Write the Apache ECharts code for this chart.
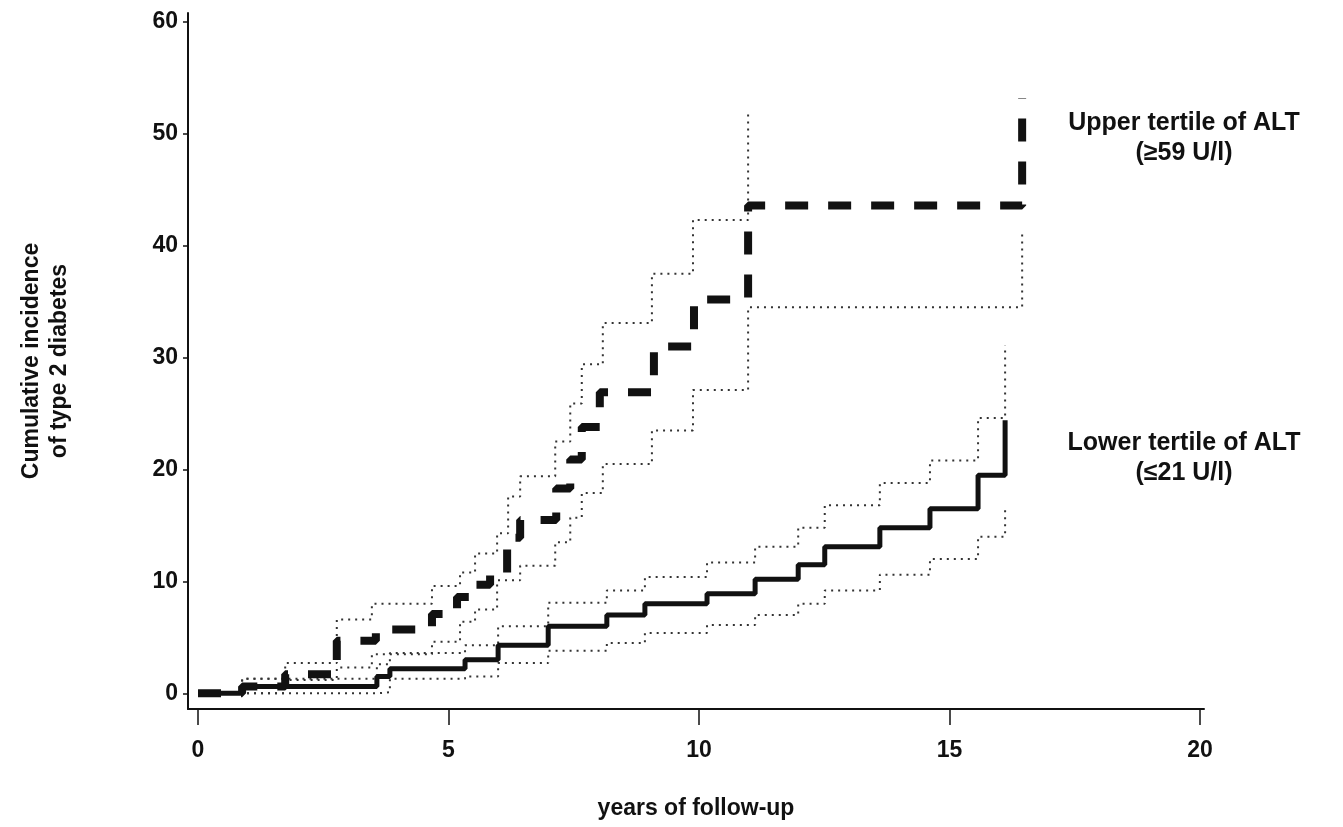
<!DOCTYPE html>
<html>
<head>
<meta charset="utf-8">
<script src="https://cdn.jsdelivr.net/npm/echarts@6/dist/echarts.min.js"></script>
<style>
html, body { margin: 0; background: #fff; }
#chart { width: 1343px; height: 827px; }
</style>
</head>
<body>
<div id="chart"></div>
<script>
// step curves: year where the curve jumps, cumulative incidence (%) after the jump
// upper tertile of ALT (dashed) and its 95% band
var upperT   = [0, 0.88, 1.74, 2.77, 3.55, 4.67, 5.17, 5.55, 5.83, 6.17, 6.43, 7.15, 7.43, 7.66, 8.02, 9.10, 9.90, 10.98, 16.45];
var upperEst = [0, 0.6, 1.7, 4.7, 5.7, 7.1, 8.6, 9.7, 10.8, 13.9, 15.5, 18.3, 20.9, 23.8, 26.9, 31.0, 35.2, 43.6, 53.2];
var upperHiT = [0, 0.88, 1.74, 2.77, 3.47, 4.67, 5.23, 5.53, 5.97, 6.19, 6.43, 7.13, 7.43, 7.66, 8.08, 9.06, 9.88, 10.98];
var upperHi  = [0, 1.3, 2.7, 6.6, 8.0, 9.6, 10.8, 12.5, 14.3, 17.6, 19.4, 22.5, 25.9, 29.4, 33.1, 37.5, 42.3, 51.9];
var upperLoT = [0, 1.74, 2.77, 3.47, 4.67, 5.23, 5.53, 5.97, 6.43, 7.13, 7.43, 7.66, 8.08, 9.06, 9.88, 10.98, 16.45];
var upperLo  = [0, 1.2, 2.3, 3.5, 4.6, 6.4, 7.5, 10.1, 11.4, 13.5, 15.7, 17.9, 20.5, 23.5, 27.1, 34.5, 41.1];

// lower tertile of ALT (solid) and its 95% band
var lowerT   = [0, 0.88, 3.57, 3.83, 5.33, 5.99, 6.99, 8.16, 8.92, 10.16, 11.12, 11.98, 12.51, 13.61, 14.61, 15.57, 16.11];
var lowerEst = [0, 0.6, 1.5, 2.2, 3.0, 4.3, 6.0, 7.0, 8.0, 8.9, 10.2, 11.5, 13.1, 14.8, 16.5, 19.5, 24.4];
var lowerHi  = [0, 1.3, 2.6, 3.6, 4.3, 6.0, 8.1, 9.2, 10.4, 11.7, 13.1, 14.8, 16.8, 18.8, 20.8, 24.6, 31.1];
var lowerLo  = [0, 0, 0.1, 1.3, 1.5, 2.7, 3.8, 4.5, 5.4, 6.1, 7.0, 8.0, 9.2, 10.6, 12.0, 14.0, 16.8];

var xTicks = [0, 5, 10, 15, 20];
var yTicks = [0, 10, 20, 30, 40, 50, 60];

function pairs(t, v) {
    return t.map(function (x, i) { return [x, v[i]]; });
}

var chart = echarts.init(document.getElementById('chart'));
var font = '"Liberation Sans", Arial, Helvetica, sans-serif';
var ink = '#111';

// thin dotted confidence limits
function dotted(name, t, v) {
    return {
        name: name,
        type: 'line',
        step: 'end',
        symbol: 'none',
        silent: true,
        data: pairs(t, v),
        lineStyle: { color: '#333', width: 2, type: [2, 5] }
    };
}

var option = {
    animation: false,
    backgroundColor: '#fff',
    grid: { left: 188, right: 139, top: 13, bottom: 118 },
    xAxis: {
        type: 'value',
        min: -0.2,
        max: 20.08,
        name: 'years of follow-up',
        nameLocation: 'middle',
        nameGap: 88,
        nameTextStyle: { fontFamily: font, fontWeight: 'bold', fontSize: 23, color: ink },
        axisLine: { onZero: false, lineStyle: { color: ink, width: 2 } },
        axisTick: { customValues: xTicks, length: 16, lineStyle: { color: ink, width: 1.5 } },
        axisLabel: { customValues: xTicks, margin: 30, fontFamily: font, fontWeight: 'bold', fontSize: 23, color: ink },
        splitLine: { show: false }
    },
    yAxis: {
        type: 'value',
        min: -1.4,
        max: 60.8,
        name: 'Cumulative incidence\nof type 2 diabetes',
        nameLocation: 'middle',
        nameRotate: 90,
        nameGap: 114,
        nameTextStyle: { fontFamily: font, fontWeight: 'bold', fontSize: 23, color: ink, lineHeight: 28 },
        axisLine: { onZero: false, lineStyle: { color: ink, width: 2 } },
        axisTick: { customValues: yTicks, length: 5, lineStyle: { color: ink, width: 1.5 } },
        axisLabel: { customValues: yTicks, margin: 10, fontFamily: font, fontWeight: 'bold', fontSize: 23, color: ink },
        splitLine: { show: false }
    },
    graphic: [
        {
            type: 'text',
            style: {
                x: 1184, y: 138,
                text: 'Upper tertile of ALT\n(≥59 U/l)',
                align: 'center', verticalAlign: 'middle',
                font: 'bold 25px ' + font, lineHeight: 30, fill: ink
            }
        },
        {
            type: 'text',
            style: {
                x: 1184, y: 458,
                text: 'Lower tertile of ALT\n(≤21 U/l)',
                align: 'center', verticalAlign: 'middle',
                font: 'bold 25px ' + font, lineHeight: 30, fill: ink
            }
        }
    ],
    series: [
        dotted('upper hi', upperHiT, upperHi),
        dotted('upper lo', upperLoT, upperLo),
        dotted('lower hi', lowerT, lowerHi),
        dotted('lower lo', lowerT, lowerLo),
        {
            name: 'Lower tertile of ALT',
            type: 'line',
            step: 'end',
            symbol: 'none',
            data: pairs(lowerT, lowerEst),
            lineStyle: { color: ink, width: 5 }
        },
        {
            name: 'Upper tertile of ALT',
            type: 'line',
            step: 'end',
            symbol: 'none',
            data: pairs(upperT, upperEst),
            lineStyle: { color: ink, width: 8, type: [23, 20], cap: 'butt' }
        }
    ]
};

chart.setOption(option);
</script>
</body>
</html>
